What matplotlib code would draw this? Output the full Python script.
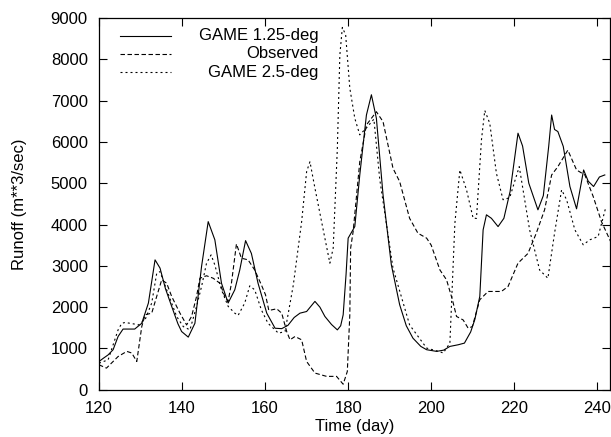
#!/usr/bin/env python3

import matplotlib
matplotlib.use("Agg")
import matplotlib.pyplot as plt

# GAME 1.25-deg (solid)
days_g125 = [120, 121, 122.2, 123.4, 124.6, 125.8, 128.6, 130.3, 131.9, 133.5,
             134.7, 136, 137.5, 139, 139.9, 141.5, 143.1, 144.7, 146.3, 147.9,
             149.5, 151.1, 152.7, 153.9, 155.3, 156.7, 158.3, 160.4, 162.4, 164,
             165.5, 167, 168.4, 170, 172, 173.2, 174.4, 176, 177.4, 178.2,
             178.8, 179.5, 180, 181.6, 182.8, 184.4, 185.6, 186.8, 188.4, 190.4,
             192.4, 194, 195.6, 197.5, 198.9, 201.3, 203, 204.5, 206.5, 208,
             209.5, 210.5, 211.7, 212.5, 213.3, 214.5, 216.1, 217.5, 219, 220.9,
             222, 223.5, 225.7, 227, 228.3, 229, 229.7, 230.5, 231.8, 233.4,
             235, 236.7, 237.8, 239.1, 240.5, 241.8]
runoff_g125 = [685, 760, 845, 970, 1290, 1470, 1470, 1610, 2100, 3145,
               2945, 2450, 2020, 1600, 1410, 1275, 1610, 2985, 4070, 3630,
               2580, 2100, 2420, 2900, 3610, 3300, 2580, 1855, 1490, 1480,
               1560, 1750, 1855, 1895, 2140, 2000, 1775, 1580, 1450, 1550,
               1815, 2800, 3670, 3950, 5200, 6650, 7140, 6570, 4720, 3025,
               2060, 1550, 1250, 1050, 970, 930, 960, 1050, 1090, 1130,
               1400, 1700, 2260, 3870, 4235, 4150, 3950, 4150, 4800, 6210,
               5900, 5000, 4355, 4700, 5900, 6650, 6300, 6250, 5890, 4920,
               4380, 5320, 5050, 4920, 5150, 5200]

# Observed (dashed)
days_obs = [120, 121.8, 124.6, 126.7, 127.9, 129.1, 130.3, 131.1, 132.7, 133.9,
            135.1, 136.3, 137.5, 139.5, 141.1, 142.3, 143.5, 144.3, 145.9, 147.5,
            149.1, 150.3, 151.1, 151.9, 153.1, 154.3, 155.9, 157.5, 159.1, 160.1,
            160.9, 162.8, 164, 165.2, 166, 167.2, 168.8, 170, 172, 174.8,
            177.2, 178.8, 179.8, 180.4, 180.6, 181.2, 182.8, 184.4, 186.8, 188.4,
            190.8, 192.4, 194.8, 196.8, 198.9, 200, 202.1, 203.7, 205.1, 206.1,
            207.7, 208.9, 209.9, 211.7, 213.7, 216.9, 218.5, 220.9, 223.3, 225.3,
            227.3, 229, 230.5, 232.9, 235, 237, 239, 241, 243.2]
runoff_obs = [605, 525, 805, 930, 890, 685, 1530, 1815, 1855, 2260,
              2660, 2580, 2260, 1855, 1570, 1775, 2260, 2700, 2760, 2700,
              2580, 2260, 2140, 2580, 3530, 3185, 3145, 2900, 2540, 2300,
              1920, 1960, 1855, 1410, 1210, 1290, 1210, 685, 405, 325,
              325, 135, 445, 1815, 3430, 3830, 5520, 6410, 6730, 6490,
              5360, 5040, 4150, 3790, 3670, 3500, 2900, 2660, 2180, 1775,
              1690, 1490, 1530, 2180, 2380, 2380, 2500, 3065, 3300, 3790,
              4355, 5200, 5400, 5800, 5320, 5200, 4680, 4070, 3590]

# GAME 2.5-deg (dotted)
days_g25 = [120, 122.2, 124.6, 125.5, 126.3, 128.6, 129.5, 131.1, 132.7, 133.9,
            134.7, 136.3, 138.7, 140.3, 141.9, 143.5, 144.7, 145.9, 147, 147.9,
            149.5, 151.1, 152.7, 153.5, 155.1, 156.3, 157.5, 159.1, 160.7, 162.4,
            163.2, 164.8, 166.8, 168.8, 170, 170.8, 172, 173.6, 175.6, 176.4,
            177.4, 178, 178.6, 179.4, 180.4, 181.6, 182.8, 184.5, 186.2, 187.6,
            190.8, 194.8, 198.9, 202.1, 202.9, 204.5, 205.7, 206.9, 208.5, 210.1,
            210.9, 212.1, 212.9, 214.1, 215.7, 217.3, 218.9, 221.2, 223.7, 226.1,
            228.1, 229.7, 231.4, 232.6, 234.6, 236.6, 238.2, 240.2, 242]
runoff_g25 = [645, 725, 1450, 1610, 1630, 1590, 1570, 1695, 2100, 2820,
              2860, 2420, 1775, 1530, 1450, 2020, 2500, 3065, 3265, 3020,
              2420, 2020, 1855, 1800, 2100, 2515, 2420, 1935, 1610, 1450,
              1370, 1410, 2540, 4070, 5280, 5520, 4880, 4070, 3065, 3430,
              5850, 8100, 8770, 8590, 7300, 6570, 6170, 6350, 6550, 5100,
              2945, 1570, 1010, 920, 890, 1130, 4030, 5320, 4840, 4150,
              4150, 6050, 6760, 6450, 5240, 4600, 4650, 5400, 3870, 2900,
              2700, 3790, 4840, 4600, 3870, 3510, 3630, 3710, 4400]

labels = ["GAME 1.25-deg", "Observed", "GAME 2.5-deg"]
x_ticks = [120, 140, 160, 180, 200, 220, 240]
y_ticks = [0, 1000, 2000, 3000, 4000, 5000, 6000, 7000, 8000, 9000]

plt.rcParams["font.family"] = ["Liberation Sans", "DejaVu Sans"]
plt.rcParams["font.size"] = 12


def main():
    fig = plt.figure(figsize=(6.11, 4.37), dpi=100)
    ax = fig.add_axes([0.162, 0.108, 0.836, 0.851])

    lw = 0.8
    styles = [
        dict(linestyle="-"),
        dict(linestyle=(0, (4, 2.3))),
        dict(linestyle=(0, (1.8, 2.7))),
    ]
    series = [(days_g125, runoff_g125), (days_obs, runoff_obs), (days_g25, runoff_g25)]
    for (xs, ys), st in zip(series, styles):
        ax.plot(xs, ys, color="black", linewidth=lw, **st)

    ax.set_xlim(120, 243)
    ax.set_ylim(0, 9000)
    ax.set_xticks(x_ticks)
    ax.set_yticks(y_ticks)
    ax.tick_params(direction="in", length=6, width=0.8, top=True, right=True)
    ax.tick_params(axis="y", pad=8)
    ax.tick_params(axis="x", pad=8)
    for sp in ax.spines.values():
        sp.set_linewidth(0.9)

    ax.set_xlabel("Time (day)", labelpad=2)
    ax.set_ylabel("Runoff (m**3/sec)", labelpad=17)

    # gnuplot-style key: samples on the left, text right-aligned
    for i, (lab, st) in enumerate(zip(labels, styles)):
        yk = 0.952 - i * 0.049
        ax.plot([0.041, 0.141], [yk, yk], transform=ax.transAxes,
                color="black", linewidth=lw, **st)
        ax.text(0.43, yk, lab, transform=ax.transAxes, ha="right", va="center")

    fig.savefig("out.png", dpi=100)


if __name__ == "__main__":
    main()
